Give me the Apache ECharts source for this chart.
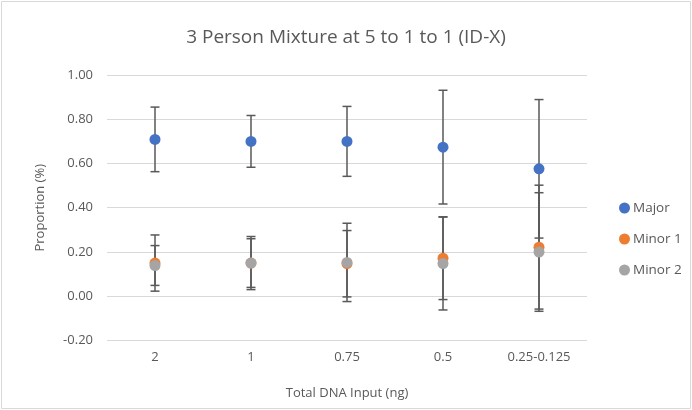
<!DOCTYPE html>
<html>
<head>
<meta charset="utf-8">
<script src="https://cdn.jsdelivr.net/npm/echarts@6/dist/echarts.min.js"></script>
<style>
  html, body { margin: 0; padding: 0; background: #fff; }
  #chart { width: 692px; height: 410px; }
</style>
</head>
<body>
<div id="chart"></div>
<script>
var categories = ['2', '1', '0.75', '0.5', '0.25-0.125'];
var yTicks = [-0.2, 0, 0.2, 0.4, 0.6, 0.8, 1.0];

var majorMean = [0.709, 0.700, 0.700, 0.674, 0.576];
var majorErr = [0.146, 0.117, 0.158, 0.257, 0.313];
var minor1Mean = [0.150, 0.150, 0.147, 0.172, 0.222];
var minor1Err = [0.127, 0.120, 0.150, 0.187, 0.280];
var minor2Mean = [0.139, 0.150, 0.153, 0.148, 0.200];
var minor2Err = [0.090, 0.110, 0.177, 0.210, 0.268];

var colors = ['#4472C4', '#ED7D31', '#A5A5A5'];

function points(mean) {
	return mean.map(function (v, i) { return [i, v]; });
}

function bars(mean, err) {
	return mean.map(function (v, i) { return [i, v - err[i], v + err[i]]; });
}

function renderBar(params, api) {
	var x = api.value(0);
	var lo = api.coord([x, api.value(1)]);
	var hi = api.coord([x, api.value(2)]);
	var half = 4.5;
	var style = { stroke: '#595959', lineWidth: 1.5 };
	return {
		type: 'group',
		children: [
			{ type: 'line', shape: { x1: lo[0], y1: lo[1], x2: hi[0], y2: hi[1] }, style: style },
			{ type: 'line', shape: { x1: lo[0] - half, y1: lo[1], x2: lo[0] + half, y2: lo[1] }, style: style },
			{ type: 'line', shape: { x1: hi[0] - half, y1: hi[1], x2: hi[0] + half, y2: hi[1] }, style: style }
		]
	};
}

function errSeries(mean, err) {
	return {
		type: 'custom',
		renderItem: renderBar,
		data: bars(mean, err),
		z: 1,
		silent: true,
		encode: { x: 0, y: [1, 2] }
	};
}

function dotSeries(name, mean, idx) {
	return {
		name: name,
		type: 'scatter',
		data: points(mean),
		symbol: 'circle',
		symbolSize: 11,
		itemStyle: { color: colors[idx], opacity: 1 },
		z: 2 + idx
	};
}

var myChart = echarts.init(document.getElementById('chart'));
var font = 'Open Sans, Liberation Sans, sans-serif';
var option = {
	animation: false,
	textStyle: { fontFamily: font, color: '#595959' },
	title: {
		text: '3 Person Mixture at 5 to 1 to 1 (ID-X)',
		left: 'center',
		top: 23,
		textStyle: { fontSize: 19, fontWeight: 'normal', color: '#595959', fontFamily: font }
	},
	legend: {
		orient: 'vertical',
		left: 614,
		top: 196,
		itemGap: 17,
		itemWidth: 11,
		itemHeight: 11,
		icon: 'circle',
		textStyle: { fontSize: 13.5, color: '#595959', fontFamily: font, padding: [0, 0, 0, -2] },
		data: ['Major', 'Minor 1', 'Minor 2']
	},
	grid: { left: 107, right: 105, top: 75, bottom: 69.5 },
	xAxis: {
		type: 'category',
		data: categories,
		boundaryGap: true,
		axisLine: { show: false },
		axisTick: { show: false },
		axisLabel: { fontSize: 13, color: '#595959', margin: 10 },
		name: 'Total DNA Input (ng)',
		nameLocation: 'middle',
		nameGap: 46,
		nameTextStyle: { fontSize: 13, color: '#595959' }
	},
	yAxis: {
		type: 'value',
		min: yTicks[0],
		max: yTicks[yTicks.length - 1],
		interval: 0.2,
		axisLine: { show: false },
		axisTick: { show: false },
		splitLine: { lineStyle: { color: '#D9D9D9', width: 1 } },
		axisLabel: {
			fontSize: 13,
			color: '#595959',
			margin: 14,
			formatter: function (v) { return v.toFixed(2); }
		},
		name: 'Proportion (%)',
		nameLocation: 'middle',
		nameGap: 60,
		nameTextStyle: { fontSize: 13, color: '#595959' }
	},
	graphic: [{
		type: 'rect',
		shape: { x: 1.5, y: 1.5, width: 689, height: 407 },
		style: { fill: 'none', stroke: '#D9D9D9', lineWidth: 1 },
		silent: true
	}],
	series: [
		errSeries(majorMean, majorErr),
		errSeries(minor1Mean, minor1Err),
		errSeries(minor2Mean, minor2Err),
		dotSeries('Major', majorMean, 0),
		dotSeries('Minor 1', minor1Mean, 1),
		dotSeries('Minor 2', minor2Mean, 2)
	]
};
myChart.setOption(option);
</script>
</body>
</html>
